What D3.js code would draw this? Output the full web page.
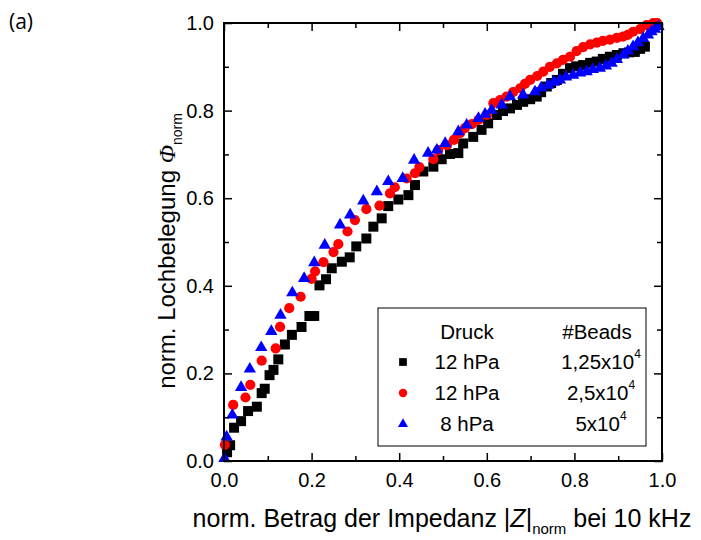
<!DOCTYPE html>
<html>
<head>
<meta charset="utf-8">
<script src="https://cdn.jsdelivr.net/npm/d3@7/dist/d3.min.js"></script>
<style>
  body { margin: 0; background: #fff; }
  svg { display: block; }
  text { font-family: "Liberation Sans", Arial, sans-serif; fill: #000; }
</style>
</head>
<body>
<svg id="chart" width="701" height="540"></svg>
<script>
// Axis ticks
const majorTicks = [0, 0.2, 0.4, 0.6, 0.8, 1.0];
const minorTicks = [0.1, 0.3, 0.5, 0.7, 0.9];

// Legend rows: pressure and bead count
const pressures = ["12 hPa", "12 hPa", "8 hPa"];
const beadMantissa = ["1,25x10", "2,5x10", "5x10"];
const beadExponent = ["4", "4", "4"];

// Series: [|Z|_norm, Phi_norm]
const squares12hPa = [
  [0.007,0.020],[0.014,0.036],[0.023,0.076],[0.039,0.091],[0.055,0.114],[0.075,0.124],
  [0.086,0.155],[0.093,0.165],[0.104,0.196],[0.113,0.208],[0.124,0.232],[0.139,0.266],
  [0.155,0.288],[0.177,0.306],[0.195,0.331],[0.206,0.331],[0.218,0.401],[0.233,0.415],
  [0.246,0.440],[0.269,0.455],[0.287,0.465],[0.302,0.490],[0.325,0.508],[0.341,0.535],
  [0.360,0.554],[0.375,0.582],[0.398,0.597],[0.421,0.607],[0.436,0.630],[0.455,0.661],
  [0.478,0.672],[0.497,0.689],[0.516,0.701],[0.535,0.703],[0.546,0.725],[0.569,0.740],
  [0.588,0.756],[0.603,0.771],[0.623,0.790],[0.637,0.799],[0.653,0.805],[0.669,0.813],
  [0.683,0.820],[0.699,0.826],[0.714,0.832],[0.724,0.842],[0.737,0.855],[0.747,0.863],
  [0.760,0.870],[0.774,0.884],[0.790,0.897],[0.804,0.901],[0.820,0.904],[0.836,0.909],
  [0.851,0.912],[0.865,0.918],[0.881,0.923],[0.897,0.927],[0.912,0.931],[0.925,0.933],
  [0.938,0.934],[0.950,0.941],[0.961,0.946]
];
const circles12hPa = [
  [0.002,0.037],[0.021,0.128],[0.049,0.145],[0.060,0.174],[0.086,0.229],[0.118,0.257],
  [0.128,0.306],[0.149,0.349],[0.175,0.375],[0.200,0.416],[0.208,0.433],[0.227,0.454],
  [0.250,0.477],[0.261,0.495],[0.282,0.524],[0.299,0.550],[0.325,0.575],[0.355,0.583],
  [0.379,0.611],[0.390,0.625],[0.417,0.645],[0.436,0.657],[0.446,0.671],[0.478,0.689],
  [0.489,0.710],[0.509,0.721],[0.525,0.733],[0.539,0.749],[0.550,0.760],[0.566,0.769],
  [0.581,0.779],[0.600,0.790],[0.615,0.817],[0.630,0.824],[0.645,0.832],[0.660,0.842],
  [0.676,0.851],[0.687,0.861],[0.699,0.870],[0.715,0.879],[0.729,0.889],[0.744,0.900],
  [0.760,0.908],[0.774,0.916],[0.790,0.923],[0.805,0.936],[0.820,0.945],[0.836,0.951],
  [0.851,0.955],[0.865,0.959],[0.881,0.962],[0.897,0.966],[0.911,0.969],[0.922,0.973],
  [0.934,0.980],[0.950,0.986],[0.965,0.995],[0.980,1.000],[0.989,1.000]
];
const triangles8hPa = [
  [0.001,0.006],[0.006,0.055],[0.019,0.105],[0.039,0.168],[0.059,0.210],[0.085,0.259],
  [0.108,0.296],[0.129,0.333],[0.156,0.384],[0.183,0.417],[0.206,0.453],[0.230,0.493],
  [0.265,0.539],[0.288,0.562],[0.318,0.594],[0.349,0.615],[0.375,0.638],[0.408,0.645],
  [0.434,0.687],[0.466,0.703],[0.486,0.710],[0.505,0.725],[0.535,0.752],[0.554,0.767],
  [0.581,0.782],[0.596,0.792],[0.611,0.801],[0.634,0.813],[0.653,0.832],[0.683,0.836],
  [0.710,0.843],[0.724,0.852],[0.740,0.858],[0.753,0.865],[0.767,0.870],[0.781,0.877],
  [0.797,0.881],[0.813,0.886],[0.828,0.889],[0.842,0.894],[0.858,0.897],[0.872,0.902],
  [0.885,0.908],[0.897,0.917],[0.912,0.927],[0.922,0.936],[0.934,0.946],[0.945,0.955],
  [0.957,0.965],[0.968,0.973],[0.976,0.980],[0.984,0.986],[0.992,0.992]
];

const series = [
  { data: squares12hPa, color: "#000000", shape: d3.symbolSquare, size: 100, legendSize: 60 },
  { data: circles12hPa, color: "#ff0000", shape: d3.symbolCircle, size: 82, legendSize: 56 },
  { data: triangles8hPa, color: "#0000ff", shape: d3.symbolTriangle, size: 66, legendSize: 44 }
];

const svg = d3.select("#chart");
const plotLeft = 224, plotRight = 662, plotTop = 23, plotBottom = 461;
const x = d3.scaleLinear().domain([0, 1]).range([plotLeft, plotRight]);
const y = d3.scaleLinear().domain([0, 1]).range([plotBottom, plotTop]);
const fmt = d3.format(".1f");

// Markers
const plot = svg.append("g");
series.forEach(s => {
  plot.append("g").selectAll("path").data(s.data).join("path")
    .attr("transform", d => `translate(${x(d[0])},${y(d[1])})`)
    .attr("d", d3.symbol().type(s.shape).size(s.size)())
    .attr("fill", s.color);
});

// Axes with inward ticks on all four sides
function styleAxis(g) {
  g.select(".domain").remove();
  g.selectAll(".tick line").attr("stroke", "#000").attr("stroke-width", 1.5);
  g.selectAll(".tick text").attr("font-size", 20).attr("font-family", "Liberation Sans, Arial, sans-serif");
}
svg.append("g").attr("transform", `translate(0,${plotBottom})`)
  .call(d3.axisBottom(x).tickValues(majorTicks).tickSize(-8).tickPadding(12).tickFormat(fmt)).call(styleAxis);
svg.append("g").attr("transform", `translate(0,${plotBottom})`)
  .call(d3.axisBottom(x).tickValues(minorTicks).tickSize(-5).tickFormat("")).call(styleAxis);
svg.append("g").attr("transform", `translate(0,${plotTop})`)
  .call(d3.axisTop(x).tickValues(majorTicks).tickSize(-8).tickFormat("")).call(styleAxis);
svg.append("g").attr("transform", `translate(0,${plotTop})`)
  .call(d3.axisTop(x).tickValues(minorTicks).tickSize(-5).tickFormat("")).call(styleAxis);
svg.append("g").attr("transform", `translate(${plotLeft},0)`)
  .call(d3.axisLeft(y).tickValues(majorTicks).tickSize(-8).tickPadding(10).tickFormat(fmt)).call(styleAxis);
svg.append("g").attr("transform", `translate(${plotLeft},0)`)
  .call(d3.axisLeft(y).tickValues(minorTicks).tickSize(-5).tickFormat("")).call(styleAxis);
svg.append("g").attr("transform", `translate(${plotRight},0)`)
  .call(d3.axisRight(y).tickValues(majorTicks).tickSize(-8).tickFormat("")).call(styleAxis);
svg.append("g").attr("transform", `translate(${plotRight},0)`)
  .call(d3.axisRight(y).tickValues(minorTicks).tickSize(-5).tickFormat("")).call(styleAxis);

// Frame
svg.append("rect").attr("x", plotLeft).attr("y", plotTop)
  .attr("width", plotRight - plotLeft).attr("height", plotBottom - plotTop)
  .attr("fill", "none").attr("stroke", "#000").attr("stroke-width", 2);

// Axis titles
const xt = svg.append("text").attr("x", 442).attr("y", 527).attr("text-anchor", "middle").attr("font-size", 25);
xt.append("tspan").text("norm. Betrag der Impedanz |");
xt.append("tspan").attr("font-style", "italic").text("Z");
xt.append("tspan").text("|");
xt.append("tspan").attr("font-size", 15).attr("dy", 7).text("norm");
xt.append("tspan").attr("dy", -7).text(" bei 10 kHz");

const yt = svg.append("text").attr("transform", "translate(175,251) rotate(-90)")
  .attr("text-anchor", "middle").attr("font-size", 24);
yt.append("tspan").text("norm. Lochbelegung ");
yt.append("tspan").attr("font-style", "italic").attr("font-family", "Liberation Serif, serif").text("Φ");
yt.append("tspan").attr("font-size", 14).attr("dy", 7).text("norm");

svg.append("text").attr("x", 9).attr("y", 29).attr("font-size", 21)
  .style("font-family", "'Open Sans', sans-serif").text("(a)");

// Legend
const lg = svg.append("g");
lg.append("rect").attr("x", 378).attr("y", 308).attr("width", 268).attr("height", 138)
  .attr("fill", "#fff").attr("stroke", "#000").attr("stroke-width", 1);
lg.append("text").attr("x", 467).attr("y", 339).attr("text-anchor", "middle").attr("font-size", 20.5).text("Druck");
lg.append("text").attr("x", 597).attr("y", 339).attr("text-anchor", "middle").attr("font-size", 20.5).text("#Beads");
const rowY = [362, 393, 424];
series.forEach((s, i) => {
  lg.append("path").attr("transform", `translate(403,${rowY[i]})`)
    .attr("d", d3.symbol().type(s.shape).size(s.legendSize)()).attr("fill", s.color);
  lg.append("text").attr("x", 467).attr("y", rowY[i] + 7).attr("text-anchor", "middle")
    .attr("font-size", 20.5).text(pressures[i]);
  const t = lg.append("text").attr("x", 601).attr("y", rowY[i] + 7).attr("text-anchor", "middle").attr("font-size", 20.5);
  t.append("tspan").text(beadMantissa[i]);
  t.append("tspan").attr("font-size", 12).attr("dy", -11).text(beadExponent[i]);
});
</script>
</body>
</html>
